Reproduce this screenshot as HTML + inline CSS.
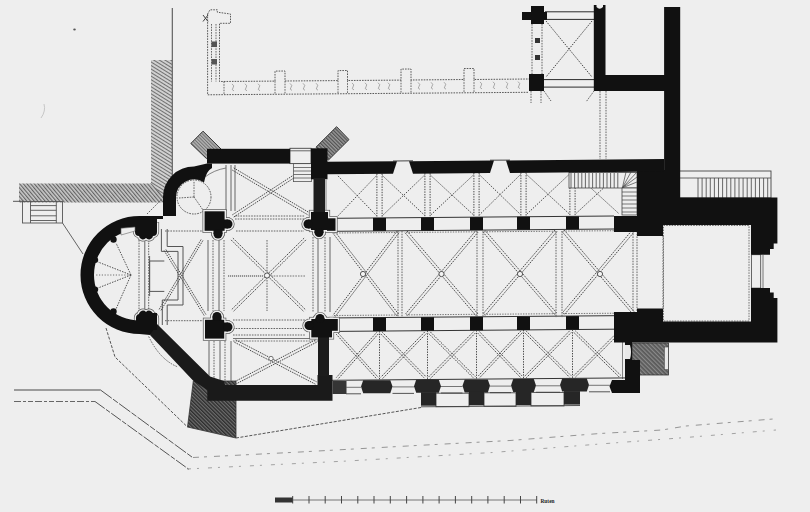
<!DOCTYPE html>
<html><head><meta charset="utf-8"><title>Plan</title>
<style>
html,body{margin:0;padding:0;background:#eeeeee;width:810px;height:512px;overflow:hidden}
svg{display:block}
</style></head><body>
<svg width="810" height="512" viewBox="0 0 810 512">
<defs>
<pattern id="hl" patternUnits="userSpaceOnUse" width="2.8" height="2.8" patternTransform="rotate(-40)">
<rect width="2.8" height="2.8" fill="#c8c8c8"/><rect width="1.1" height="2.8" fill="#626262"/></pattern>
<pattern id="hv" patternUnits="userSpaceOnUse" width="3" height="3" patternTransform="rotate(-58)">
<rect width="3" height="3" fill="#d0d0d0"/><rect width="1" height="3" fill="#707070"/></pattern>
<pattern id="hm" patternUnits="userSpaceOnUse" width="2.4" height="2.4" patternTransform="rotate(-45)">
<rect width="2.4" height="2.4" fill="#b4b4b4"/><rect width="1" height="2.4" fill="#707070"/></pattern>
<pattern id="hd" patternUnits="userSpaceOnUse" width="2.6" height="2.6" patternTransform="rotate(-45)">
<rect width="2.6" height="2.6" fill="#6e6e6e"/><rect width="1.4" height="2.6" fill="#2e2e2e"/></pattern>
<pattern id="hd2" patternUnits="userSpaceOnUse" width="3" height="3" patternTransform="rotate(-45)">
<rect width="3" height="3" fill="#5a5a5a"/><rect width="1.2" height="3" fill="#8a8a8a"/></pattern>
<pattern id="hm2" patternUnits="userSpaceOnUse" width="2.6" height="2.6" patternTransform="rotate(-45)">
<rect width="2.6" height="2.6" fill="#9a9a9a"/><rect width="1.2" height="2.6" fill="#505050"/></pattern>
</defs>
<rect width="810" height="512" fill="#eeeeee"/>
<g id="hatch">
<polygon points="19,183.5 151,183.5 168.6,202.6 19,202.6" fill="url(#hl)"/>
<polygon points="151,60 172,60 172,202.6 168.6,202.6 151,183.5" fill="url(#hv)"/>
<line x1="151" y1="183.5" x2="166" y2="200" stroke="#666" stroke-width="0.8"/>
<polygon points="190.8,143.5 203,131.2 221,149 206.4,158.5" fill="url(#hm)" stroke="#333" stroke-width="1"/>
<polygon points="316,147.2 336.6,126.7 349,139.6 328.4,160.1" fill="url(#hm2)" stroke="#333" stroke-width="1"/>
<polygon points="193.3,381 236,381 236,438 187.5,427" fill="url(#hd)" stroke="#333" stroke-width="0.8"/>
<rect x="332.5" y="381" width="14" height="13" fill="#353535"/>
<rect x="632" y="343" width="36.5" height="32" fill="url(#hd2)" stroke="#333" stroke-width="0.8"/>
<rect x="664.3" y="347" width="4" height="22.7" fill="#e8e8e8" stroke="#444" stroke-width="0.6"/>
</g>
<g id="lines">
<ellipse cx="74.5" cy="29.5" rx="1.3" ry="1" fill="#555"/>
<path d="M44,104 Q46,111 41,118" fill="none" stroke="#bbb" stroke-width="0.8"/>
<line x1="393" y1="161" x2="413" y2="160.8" stroke="#333" stroke-width="0.9"/>
<line x1="490" y1="160.2" x2="510" y2="160.1" stroke="#333" stroke-width="0.9"/>
<line x1="172.3" y1="8" x2="172.3" y2="190" stroke="#555" stroke-width="1.1"/>
<line x1="13" y1="201.3" x2="24" y2="201.3" stroke="#555" stroke-width="1"/>
<rect x="22.5" y="201.5" width="40" height="21.5" fill="none" stroke="#555" stroke-width="0.9"/>
<line x1="30.5" y1="201.5" x2="30.5" y2="223" stroke="#555" stroke-width="0.9"/>
<line x1="56.3" y1="201.5" x2="56.3" y2="223" stroke="#555" stroke-width="0.9"/>
<line x1="30.5" y1="205.6" x2="56.3" y2="205.6" stroke="#555" stroke-width="0.9"/>
<line x1="30.5" y1="210.3" x2="56.3" y2="210.3" stroke="#555" stroke-width="0.9"/>
<line x1="30.5" y1="215.8" x2="56.3" y2="215.8" stroke="#555" stroke-width="0.9"/>
<line x1="30.5" y1="220.5" x2="56.3" y2="220.5" stroke="#555" stroke-width="0.9"/>
<line x1="62.5" y1="223" x2="83" y2="254" stroke="#555" stroke-width="0.9"/>
<line x1="147" y1="214" x2="162" y2="199" stroke="#555" stroke-width="0.9" stroke-dasharray="1.6 1.1"/>
<polyline points="207.6,14 210,9.8 217.3,9.8 217.3,12.2 230.5,14 230.5,23.3 219.5,23.3 219.5,81.5 275,81.1 275,71.1 285,71 285,81 338,80.6 338,70.6 347.5,70.5 347.5,80.5 401,80.1 401,69.1 411,69 411,80 464,79.5 464,68.5 474,68.5 474,79.5 529,79" fill="none" stroke="#585858" stroke-width="1" stroke-dasharray="1.6 1.1"/>
<polyline points="207.6,14 207.6,94.8 529,92.3" fill="none" stroke="#585858" stroke-width="1" stroke-dasharray="1.6 1.1"/>
<line x1="211.5" y1="24" x2="211.5" y2="81.5" stroke="#585858" stroke-width="0.9" stroke-dasharray="1.6 1.1"/>
<line x1="216" y1="24" x2="216" y2="81.5" stroke="#585858" stroke-width="0.9" stroke-dasharray="1.6 1.1"/>
<line x1="224" y1="81.5" x2="224" y2="94.8" stroke="#585858" stroke-width="0.9" stroke-dasharray="1.6 1.1"/>
<line x1="275" y1="81.1" x2="275" y2="94.4" stroke="#585858" stroke-width="0.9" stroke-dasharray="1.6 1.1"/>
<line x1="285" y1="81" x2="285" y2="94.3" stroke="#585858" stroke-width="0.9" stroke-dasharray="1.6 1.1"/>
<line x1="338" y1="80.6" x2="338" y2="93.9" stroke="#585858" stroke-width="0.9" stroke-dasharray="1.6 1.1"/>
<line x1="347.5" y1="80.5" x2="347.5" y2="93.8" stroke="#585858" stroke-width="0.9" stroke-dasharray="1.6 1.1"/>
<line x1="401" y1="80.1" x2="401" y2="93.4" stroke="#585858" stroke-width="0.9" stroke-dasharray="1.6 1.1"/>
<line x1="411" y1="80" x2="411" y2="93.3" stroke="#585858" stroke-width="0.9" stroke-dasharray="1.6 1.1"/>
<line x1="464" y1="79.5" x2="464" y2="92.8" stroke="#585858" stroke-width="0.9" stroke-dasharray="1.6 1.1"/>
<line x1="474" y1="79.5" x2="474" y2="92.8" stroke="#585858" stroke-width="0.9" stroke-dasharray="1.6 1.1"/>
<rect x="211.5" y="41.5" width="5.5" height="5.5" fill="#555"/><rect x="211.5" y="59" width="5.5" height="5.5" fill="#555"/>
<line x1="203" y1="15" x2="208" y2="21.5" stroke="#444" stroke-width="1"/>
<line x1="208" y1="15" x2="203" y2="21.5" stroke="#444" stroke-width="1"/>
<path d="M232,83.9 q3,2 1,4 q-2,2 1,3" fill="none" stroke="#8a8a8a" stroke-width="0.7"/>
<path d="M245,83.8 q3,2 1,4 q-2,2 1,3" fill="none" stroke="#8a8a8a" stroke-width="0.7"/>
<path d="M258,83.7 q3,2 1,4 q-2,2 1,3" fill="none" stroke="#8a8a8a" stroke-width="0.7"/>
<path d="M290,83.4 q3,2 1,4 q-2,2 1,3" fill="none" stroke="#8a8a8a" stroke-width="0.7"/>
<path d="M303,83.3 q3,2 1,4 q-2,2 1,3" fill="none" stroke="#8a8a8a" stroke-width="0.7"/>
<path d="M316,83.2 q3,2 1,4 q-2,2 1,3" fill="none" stroke="#8a8a8a" stroke-width="0.7"/>
<path d="M352,82.9 q3,2 1,4 q-2,2 1,3" fill="none" stroke="#8a8a8a" stroke-width="0.7"/>
<path d="M365,82.8 q3,2 1,4 q-2,2 1,3" fill="none" stroke="#8a8a8a" stroke-width="0.7"/>
<path d="M378,82.7 q3,2 1,4 q-2,2 1,3" fill="none" stroke="#8a8a8a" stroke-width="0.7"/>
<path d="M388,82.7 q3,2 1,4 q-2,2 1,3" fill="none" stroke="#8a8a8a" stroke-width="0.7"/>
<path d="M418,82.4 q3,2 1,4 q-2,2 1,3" fill="none" stroke="#8a8a8a" stroke-width="0.7"/>
<path d="M431,82.3 q3,2 1,4 q-2,2 1,3" fill="none" stroke="#8a8a8a" stroke-width="0.7"/>
<path d="M444,82.2 q3,2 1,4 q-2,2 1,3" fill="none" stroke="#8a8a8a" stroke-width="0.7"/>
<path d="M480,81.9 q3,2 1,4 q-2,2 1,3" fill="none" stroke="#8a8a8a" stroke-width="0.7"/>
<path d="M493,81.8 q3,2 1,4 q-2,2 1,3" fill="none" stroke="#8a8a8a" stroke-width="0.7"/>
<path d="M506,81.7 q3,2 1,4 q-2,2 1,3" fill="none" stroke="#8a8a8a" stroke-width="0.7"/>
<path d="M518,81.6 q3,2 1,4 q-2,2 1,3" fill="none" stroke="#8a8a8a" stroke-width="0.7"/>
<line x1="545" y1="11.8" x2="594" y2="11.8" stroke="#2a2a2a" stroke-width="1"/>
<line x1="545" y1="19.4" x2="594" y2="19.4" stroke="#2a2a2a" stroke-width="1"/>
<line x1="544" y1="79.6" x2="594" y2="79.6" stroke="#2a2a2a" stroke-width="1"/>
<line x1="544" y1="87.1" x2="594" y2="87.1" stroke="#2a2a2a" stroke-width="1"/>
<line x1="546" y1="21" x2="592" y2="77" stroke="#444" stroke-width="1" stroke-dasharray="1.5 1.2"/>
<line x1="592" y1="21" x2="546" y2="77" stroke="#444" stroke-width="1" stroke-dasharray="1.5 1.2"/>
<line x1="532" y1="24" x2="532" y2="74" stroke="#555" stroke-width="0.9" stroke-dasharray="1.6 1.1"/>
<line x1="542" y1="24" x2="542" y2="74" stroke="#555" stroke-width="0.9" stroke-dasharray="1.6 1.1"/>
<rect x="535" y="38" width="5" height="5" fill="#333"/><rect x="535" y="55" width="5" height="5" fill="#333"/>
<line x1="531" y1="91" x2="531" y2="103" stroke="#555" stroke-width="0.9" stroke-dasharray="1.6 1.1"/>
<line x1="541" y1="91" x2="541" y2="103" stroke="#555" stroke-width="0.9" stroke-dasharray="1.6 1.1"/>
<line x1="544" y1="91" x2="551" y2="101" stroke="#555" stroke-width="0.9" stroke-dasharray="1.6 1.1"/>
<line x1="594" y1="91" x2="586" y2="102" stroke="#555" stroke-width="0.9" stroke-dasharray="1.6 1.1"/>
<line x1="600" y1="91" x2="600" y2="159" stroke="#555" stroke-width="0.9" stroke-dasharray="1.6 1.1"/>
<line x1="606" y1="91" x2="606" y2="159" stroke="#555" stroke-width="0.9" stroke-dasharray="1.6 1.1"/>
<rect x="290" y="148.3" width="21" height="15.3" fill="none" stroke="#444" stroke-width="0.9"/>
<line x1="290" y1="150.8" x2="311" y2="150.8" stroke="#444" stroke-width="0.8"/>
<rect x="293.4" y="163.6" width="18" height="18" fill="none" stroke="#555" stroke-width="0.8"/>
<line x1="293.4" y1="167.5" x2="311" y2="167.5" stroke="#555" stroke-width="0.8"/>
<line x1="293.4" y1="171" x2="311" y2="171" stroke="#555" stroke-width="0.8"/>
<line x1="293.4" y1="174.5" x2="311" y2="174.5" stroke="#555" stroke-width="0.8"/>
<line x1="293.4" y1="178" x2="311" y2="178" stroke="#555" stroke-width="0.8"/>
<line x1="226" y1="165" x2="226" y2="211" stroke="#555" stroke-width="0.9"/>
<line x1="231" y1="165" x2="231" y2="211" stroke="#555" stroke-width="0.9"/>
<line x1="235" y1="165" x2="235" y2="211" stroke="#555" stroke-width="0.9"/>
<line x1="232.3" y1="170.1" x2="308.3" y2="215.1" stroke="#484848" stroke-width="1" stroke-dasharray="1.5 1"/>
<line x1="233.7" y1="167.9" x2="309.7" y2="212.9" stroke="#484848" stroke-width="1" stroke-dasharray="1.5 1"/>
<line x1="292.3" y1="175.9" x2="232.3" y2="214.9" stroke="#484848" stroke-width="1" stroke-dasharray="1.5 1"/>
<line x1="293.7" y1="178.1" x2="233.7" y2="217.1" stroke="#484848" stroke-width="1" stroke-dasharray="1.5 1"/>
<line x1="235" y1="216" x2="305" y2="216" stroke="#555" stroke-width="0.9" stroke-dasharray="1.6 1.1"/>
<line x1="235" y1="219" x2="305" y2="219" stroke="#555" stroke-width="0.9" stroke-dasharray="1.6 1.1"/>
<line x1="236" y1="231" x2="304" y2="231" stroke="#555" stroke-width="0.9" stroke-dasharray="1.6 1.1"/>
<path d="M205,177 Q214,170 226,168" fill="none" stroke="#666" stroke-width="0.8"/>
<line x1="326" y1="180" x2="326" y2="213" stroke="#555" stroke-width="0.7"/>
<circle cx="194" cy="197" r="17" fill="none" stroke="#555" stroke-width="1" stroke-dasharray="1.6 1.1"/>
<line x1="194" y1="197" x2="194" y2="181" stroke="#555" stroke-width="0.9" stroke-dasharray="1.6 1.1"/>
<line x1="194" y1="197" x2="179" y2="198" stroke="#555" stroke-width="0.9" stroke-dasharray="1.6 1.1"/>
<line x1="194" y1="197" x2="203" y2="210" stroke="#555" stroke-width="0.9" stroke-dasharray="1.6 1.1"/>
<line x1="131" y1="275" x2="116" y2="243" stroke="#505050" stroke-width="1" stroke-dasharray="1.5 1.2"/>
<line x1="131" y1="275" x2="98" y2="262" stroke="#505050" stroke-width="1" stroke-dasharray="1.5 1.2"/>
<line x1="131" y1="275" x2="98" y2="288" stroke="#505050" stroke-width="1" stroke-dasharray="1.5 1.2"/>
<line x1="131" y1="275" x2="116" y2="309" stroke="#505050" stroke-width="1" stroke-dasharray="1.5 1.2"/>
<line x1="131" y1="275" x2="96" y2="275" stroke="#505050" stroke-width="0.8" stroke-dasharray="1.2 1.6"/>
<line x1="139" y1="240" x2="139" y2="312" stroke="#555" stroke-width="0.9" stroke-dasharray="1.6 1.1"/>
<line x1="144.8" y1="240" x2="144.8" y2="312" stroke="#555" stroke-width="0.9"/>
<line x1="148.7" y1="240" x2="148.7" y2="312" stroke="#555" stroke-width="0.9" stroke-dasharray="1.6 1.1"/>
<polyline points="161.4,229 161.4,251.4 178,251.4 178,300 162.3,300 162.3,325" fill="none" stroke="#555" stroke-width="1"/>
<polyline points="167.2,229 167.2,246.5 183,246.5 183,305 167.2,305 167.2,325" fill="none" stroke="#555" stroke-width="1"/>
<polyline points="164.3,261 149.6,261 149.6,291.4 164.3,291.4" fill="none" stroke="#555" stroke-width="1"/>
<line x1="149.6" y1="256" x2="149.6" y2="296" stroke="#555" stroke-width="0.9"/>
<line x1="164.1" y1="250.5" x2="204.1" y2="315.5" stroke="#484848" stroke-width="1" stroke-dasharray="1.5 1"/>
<line x1="165.9" y1="249.5" x2="205.9" y2="314.5" stroke="#484848" stroke-width="1" stroke-dasharray="1.5 1"/>
<line x1="201.1" y1="239.5" x2="159.1" y2="309.5" stroke="#484848" stroke-width="1" stroke-dasharray="1.5 1"/>
<line x1="202.9" y1="240.5" x2="160.9" y2="310.5" stroke="#484848" stroke-width="1" stroke-dasharray="1.5 1"/>
<line x1="165" y1="231" x2="205" y2="231" stroke="#555" stroke-width="0.9" stroke-dasharray="1.6 1.1"/>
<line x1="165" y1="320.7" x2="205" y2="320.7" stroke="#555" stroke-width="0.9" stroke-dasharray="1.6 1.1"/>
<line x1="208" y1="240" x2="208" y2="311" stroke="#555" stroke-width="0.9"/>
<line x1="213" y1="240" x2="213" y2="311" stroke="#555" stroke-width="0.9" stroke-dasharray="1.6 1.1"/>
<line x1="219" y1="240" x2="219" y2="311" stroke="#555" stroke-width="0.9"/>
<line x1="224" y1="240" x2="224" y2="311" stroke="#555" stroke-width="0.9" stroke-dasharray="1.6 1.1"/>
<line x1="231.1" y1="239.9" x2="304.1" y2="311.9" stroke="#484848" stroke-width="1" stroke-dasharray="1.5 1"/>
<line x1="232.9" y1="238.1" x2="305.9" y2="310.1" stroke="#484848" stroke-width="1" stroke-dasharray="1.5 1"/>
<line x1="304.1" y1="238.1" x2="231.1" y2="310.1" stroke="#484848" stroke-width="1" stroke-dasharray="1.5 1"/>
<line x1="305.9" y1="239.9" x2="232.9" y2="311.9" stroke="#484848" stroke-width="1" stroke-dasharray="1.5 1"/>
<line x1="228" y1="276" x2="263" y2="276" stroke="#777" stroke-width="1.6" stroke-dasharray="1.2 0.8"/>
<line x1="271" y1="276" x2="305" y2="276" stroke="#555" stroke-width="0.8" stroke-dasharray="1.6 1.1"/>
<line x1="267" y1="240" x2="267" y2="272" stroke="#555" stroke-width="0.9" stroke-dasharray="1.6 1.1"/>
<line x1="267" y1="280" x2="267" y2="311" stroke="#555" stroke-width="0.9" stroke-dasharray="1.6 1.1"/>
<line x1="313" y1="237" x2="313" y2="312" stroke="#555" stroke-width="0.9" stroke-dasharray="1.6 1.1"/>
<line x1="318" y1="237" x2="318" y2="312" stroke="#555" stroke-width="0.9"/>
<line x1="325" y1="237" x2="325" y2="312" stroke="#555" stroke-width="0.9" stroke-dasharray="1.6 1.1"/>
<line x1="330" y1="237" x2="330" y2="312" stroke="#555" stroke-width="0.9"/>
<circle cx="267" cy="275.5" r="2.6" fill="#f4f4f4" stroke="#555" stroke-width="1"/>
<line x1="234.4" y1="342.2" x2="315.4" y2="384.2" stroke="#484848" stroke-width="1" stroke-dasharray="1.5 1"/>
<line x1="235.6" y1="339.8" x2="316.6" y2="381.8" stroke="#484848" stroke-width="1" stroke-dasharray="1.5 1"/>
<line x1="315.4" y1="339.8" x2="234.4" y2="381.8" stroke="#484848" stroke-width="1" stroke-dasharray="1.5 1"/>
<line x1="316.6" y1="342.2" x2="235.6" y2="384.2" stroke="#484848" stroke-width="1" stroke-dasharray="1.5 1"/>
<circle cx="271" cy="358.5" r="2.2" fill="#f4f4f4" stroke="#666" stroke-width="0.9"/>
<line x1="233" y1="320" x2="305" y2="320" stroke="#555" stroke-width="0.9" stroke-dasharray="1.6 1.1"/>
<line x1="233" y1="328.5" x2="305" y2="328.5" stroke="#555" stroke-width="0.9" stroke-dasharray="1.6 1.1"/>
<line x1="233" y1="335" x2="305" y2="335" stroke="#555" stroke-width="0.9" stroke-dasharray="1.6 1.1"/>
<line x1="233" y1="338.5" x2="318" y2="338.5" stroke="#555" stroke-width="0.8"/>
<line x1="233" y1="341" x2="318" y2="341" stroke="#555" stroke-width="0.8" stroke-dasharray="1.6 1.1"/>
<line x1="209" y1="341" x2="209" y2="381" stroke="#555" stroke-width="0.9"/>
<line x1="214" y1="341" x2="214" y2="381" stroke="#555" stroke-width="0.9" stroke-dasharray="1.6 1.1"/>
<line x1="220" y1="341" x2="220" y2="381" stroke="#555" stroke-width="0.9"/>
<line x1="225" y1="341" x2="225" y2="381" stroke="#555" stroke-width="0.9" stroke-dasharray="1.6 1.1"/>
<line x1="231" y1="341" x2="231" y2="381" stroke="#555" stroke-width="0.9"/>
<polyline points="106,328 115,357 187.5,427" fill="none" stroke="#555" stroke-width="1" stroke-dasharray="3 1.5"/>
<path d="M148.7,336.5 Q160,360 178,367" fill="none" stroke="#555" stroke-width="0.9" stroke-dasharray="1.6 1.1"/>
<line x1="335" y1="218.3" x2="614" y2="216" stroke="#333" stroke-width="1"/>
<line x1="335" y1="231.3" x2="614" y2="229" stroke="#333" stroke-width="1"/>
<line x1="337" y1="317.9" x2="614" y2="315.7" stroke="#333" stroke-width="1"/>
<line x1="337" y1="331.4" x2="614" y2="329.2" stroke="#333" stroke-width="1"/>
<line x1="376.9" y1="173.6" x2="376.9" y2="217.6" stroke="#4a4a4a" stroke-width="1" stroke-dasharray="1.4 1.2"/>
<line x1="382.1" y1="173.6" x2="382.1" y2="217.6" stroke="#4a4a4a" stroke-width="1" stroke-dasharray="1.4 1.2"/>
<line x1="424.9" y1="173.2" x2="424.9" y2="217.2" stroke="#4a4a4a" stroke-width="1" stroke-dasharray="1.4 1.2"/>
<line x1="430.1" y1="173.2" x2="430.1" y2="217.2" stroke="#4a4a4a" stroke-width="1" stroke-dasharray="1.4 1.2"/>
<line x1="473.9" y1="172.8" x2="473.9" y2="216.8" stroke="#4a4a4a" stroke-width="1" stroke-dasharray="1.4 1.2"/>
<line x1="479.1" y1="172.8" x2="479.1" y2="216.8" stroke="#4a4a4a" stroke-width="1" stroke-dasharray="1.4 1.2"/>
<line x1="520.9" y1="172.5" x2="520.9" y2="216.5" stroke="#4a4a4a" stroke-width="1" stroke-dasharray="1.4 1.2"/>
<line x1="526.1" y1="172.5" x2="526.1" y2="216.5" stroke="#4a4a4a" stroke-width="1" stroke-dasharray="1.4 1.2"/>
<line x1="569.9" y1="172.1" x2="569.9" y2="216.1" stroke="#4a4a4a" stroke-width="1" stroke-dasharray="1.4 1.2"/>
<line x1="575.1" y1="172.1" x2="575.1" y2="216.1" stroke="#4a4a4a" stroke-width="1" stroke-dasharray="1.4 1.2"/>
<line x1="338" y1="175.9" x2="376.5" y2="215.6" stroke="#4a4a4a" stroke-width="1" stroke-dasharray="1.4 1.3"/>
<line x1="376.5" y1="175.6" x2="338" y2="215.9" stroke="#4a4a4a" stroke-width="1" stroke-dasharray="1.4 1.3"/>
<line x1="382.5" y1="175.6" x2="424.5" y2="215.2" stroke="#4a4a4a" stroke-width="1" stroke-dasharray="1.4 1.3"/>
<line x1="424.5" y1="175.2" x2="382.5" y2="215.6" stroke="#4a4a4a" stroke-width="1" stroke-dasharray="1.4 1.3"/>
<line x1="430.5" y1="175.2" x2="473.5" y2="214.9" stroke="#4a4a4a" stroke-width="1" stroke-dasharray="1.4 1.3"/>
<line x1="473.5" y1="174.9" x2="430.5" y2="215.2" stroke="#4a4a4a" stroke-width="1" stroke-dasharray="1.4 1.3"/>
<line x1="479.5" y1="174.8" x2="520.5" y2="214.5" stroke="#4a4a4a" stroke-width="1" stroke-dasharray="1.4 1.3"/>
<line x1="520.5" y1="174.5" x2="479.5" y2="214.8" stroke="#4a4a4a" stroke-width="1" stroke-dasharray="1.4 1.3"/>
<line x1="526.5" y1="174.4" x2="569.5" y2="214.1" stroke="#4a4a4a" stroke-width="1" stroke-dasharray="1.4 1.3"/>
<line x1="569.5" y1="174.1" x2="526.5" y2="214.4" stroke="#4a4a4a" stroke-width="1" stroke-dasharray="1.4 1.3"/>
<line x1="575.5" y1="174" x2="619" y2="213.7" stroke="#4a4a4a" stroke-width="1" stroke-dasharray="1.4 1.3"/>
<line x1="619" y1="173.7" x2="575.5" y2="214" stroke="#4a4a4a" stroke-width="1" stroke-dasharray="1.4 1.3"/>
<line x1="379.5" y1="331.1" x2="379.5" y2="379.6" stroke="#4a4a4a" stroke-width="1" stroke-dasharray="1.4 1.2"/>
<line x1="427.5" y1="330.7" x2="427.5" y2="379.2" stroke="#4a4a4a" stroke-width="1" stroke-dasharray="1.4 1.2"/>
<line x1="476.5" y1="330.3" x2="476.5" y2="378.8" stroke="#4a4a4a" stroke-width="1" stroke-dasharray="1.4 1.2"/>
<line x1="523.5" y1="330" x2="523.5" y2="378.5" stroke="#4a4a4a" stroke-width="1" stroke-dasharray="1.4 1.2"/>
<line x1="572.5" y1="329.6" x2="572.5" y2="378.1" stroke="#4a4a4a" stroke-width="1" stroke-dasharray="1.4 1.2"/>
<line x1="336.2" y1="334.2" x2="376.7" y2="378.9" stroke="#484848" stroke-width="1" stroke-dasharray="1.5 1"/>
<line x1="337.8" y1="332.7" x2="378.3" y2="377.4" stroke="#484848" stroke-width="1" stroke-dasharray="1.5 1"/>
<line x1="376.7" y1="332.4" x2="336.2" y2="377.7" stroke="#484848" stroke-width="1" stroke-dasharray="1.5 1"/>
<line x1="378.3" y1="333.9" x2="337.8" y2="379.2" stroke="#484848" stroke-width="1" stroke-dasharray="1.5 1"/>
<line x1="380.7" y1="333.9" x2="424.7" y2="378.5" stroke="#484848" stroke-width="1" stroke-dasharray="1.5 1"/>
<line x1="382.3" y1="332.3" x2="426.3" y2="377" stroke="#484848" stroke-width="1" stroke-dasharray="1.5 1"/>
<line x1="424.7" y1="332" x2="380.7" y2="377.3" stroke="#484848" stroke-width="1" stroke-dasharray="1.5 1"/>
<line x1="426.3" y1="333.5" x2="382.3" y2="378.9" stroke="#484848" stroke-width="1" stroke-dasharray="1.5 1"/>
<line x1="428.7" y1="333.5" x2="473.7" y2="378.1" stroke="#484848" stroke-width="1" stroke-dasharray="1.5 1"/>
<line x1="430.3" y1="331.9" x2="475.3" y2="376.6" stroke="#484848" stroke-width="1" stroke-dasharray="1.5 1"/>
<line x1="473.7" y1="331.6" x2="428.7" y2="376.9" stroke="#484848" stroke-width="1" stroke-dasharray="1.5 1"/>
<line x1="475.3" y1="333.1" x2="430.3" y2="378.5" stroke="#484848" stroke-width="1" stroke-dasharray="1.5 1"/>
<line x1="477.7" y1="333.1" x2="520.7" y2="377.7" stroke="#484848" stroke-width="1" stroke-dasharray="1.5 1"/>
<line x1="479.3" y1="331.5" x2="522.3" y2="376.2" stroke="#484848" stroke-width="1" stroke-dasharray="1.5 1"/>
<line x1="520.7" y1="331.2" x2="477.7" y2="376.6" stroke="#484848" stroke-width="1" stroke-dasharray="1.5 1"/>
<line x1="522.3" y1="332.7" x2="479.3" y2="378.1" stroke="#484848" stroke-width="1" stroke-dasharray="1.5 1"/>
<line x1="524.7" y1="332.7" x2="569.7" y2="377.4" stroke="#484848" stroke-width="1" stroke-dasharray="1.5 1"/>
<line x1="526.3" y1="331.2" x2="571.3" y2="375.8" stroke="#484848" stroke-width="1" stroke-dasharray="1.5 1"/>
<line x1="569.7" y1="330.8" x2="524.7" y2="376.2" stroke="#484848" stroke-width="1" stroke-dasharray="1.5 1"/>
<line x1="571.3" y1="332.4" x2="526.3" y2="377.7" stroke="#484848" stroke-width="1" stroke-dasharray="1.5 1"/>
<line x1="573.7" y1="332.3" x2="619.2" y2="377" stroke="#484848" stroke-width="1" stroke-dasharray="1.5 1"/>
<line x1="575.3" y1="330.8" x2="620.8" y2="375.4" stroke="#484848" stroke-width="1" stroke-dasharray="1.5 1"/>
<line x1="619.2" y1="330.4" x2="573.7" y2="375.8" stroke="#484848" stroke-width="1" stroke-dasharray="1.5 1"/>
<line x1="620.8" y1="332" x2="575.3" y2="377.3" stroke="#484848" stroke-width="1" stroke-dasharray="1.5 1"/>
<line x1="622.5" y1="331" x2="622.5" y2="379" stroke="#666" stroke-width="0.8"/>
<line x1="333" y1="233.3" x2="397" y2="316.2" stroke="#484848" stroke-width="1" stroke-dasharray="1.5 1"/>
<line x1="335" y1="231.7" x2="399" y2="314.7" stroke="#484848" stroke-width="1" stroke-dasharray="1.5 1"/>
<line x1="397" y1="231.2" x2="333" y2="315.2" stroke="#484848" stroke-width="1" stroke-dasharray="1.5 1"/>
<line x1="399" y1="232.7" x2="335" y2="316.8" stroke="#484848" stroke-width="1" stroke-dasharray="1.5 1"/>
<line x1="334" y1="233" x2="398" y2="232.5" stroke="#555" stroke-width="0.8" stroke-dasharray="1.4 1.2"/>
<line x1="334" y1="315.5" x2="398" y2="315" stroke="#555" stroke-width="0.8" stroke-dasharray="1.4 1.2"/>
<line x1="405" y1="232.7" x2="476" y2="315.7" stroke="#484848" stroke-width="1" stroke-dasharray="1.5 1"/>
<line x1="407" y1="231" x2="478" y2="314" stroke="#484848" stroke-width="1" stroke-dasharray="1.5 1"/>
<line x1="476" y1="230.5" x2="405" y2="314.6" stroke="#484848" stroke-width="1" stroke-dasharray="1.5 1"/>
<line x1="478" y1="232.2" x2="407" y2="316.2" stroke="#484848" stroke-width="1" stroke-dasharray="1.5 1"/>
<line x1="406" y1="232.4" x2="477" y2="231.8" stroke="#555" stroke-width="0.8" stroke-dasharray="1.4 1.2"/>
<line x1="406" y1="314.9" x2="477" y2="314.3" stroke="#555" stroke-width="0.8" stroke-dasharray="1.4 1.2"/>
<line x1="483" y1="232.1" x2="555" y2="315" stroke="#484848" stroke-width="1" stroke-dasharray="1.5 1"/>
<line x1="485" y1="230.4" x2="557" y2="313.3" stroke="#484848" stroke-width="1" stroke-dasharray="1.5 1"/>
<line x1="555" y1="229.8" x2="483" y2="313.9" stroke="#484848" stroke-width="1" stroke-dasharray="1.5 1"/>
<line x1="557" y1="231.5" x2="485" y2="315.6" stroke="#484848" stroke-width="1" stroke-dasharray="1.5 1"/>
<line x1="484" y1="231.8" x2="556" y2="231.2" stroke="#555" stroke-width="0.8" stroke-dasharray="1.4 1.2"/>
<line x1="484" y1="314.3" x2="556" y2="313.7" stroke="#555" stroke-width="0.8" stroke-dasharray="1.4 1.2"/>
<line x1="562" y1="231.5" x2="633" y2="314.4" stroke="#484848" stroke-width="1" stroke-dasharray="1.5 1"/>
<line x1="564" y1="229.8" x2="635" y2="312.7" stroke="#484848" stroke-width="1" stroke-dasharray="1.5 1"/>
<line x1="633" y1="229.2" x2="562" y2="313.3" stroke="#484848" stroke-width="1" stroke-dasharray="1.5 1"/>
<line x1="635" y1="230.9" x2="564" y2="315" stroke="#484848" stroke-width="1" stroke-dasharray="1.5 1"/>
<line x1="563" y1="231.1" x2="634" y2="230.6" stroke="#555" stroke-width="0.8" stroke-dasharray="1.4 1.2"/>
<line x1="563" y1="313.6" x2="634" y2="313.1" stroke="#555" stroke-width="0.8" stroke-dasharray="1.4 1.2"/>
<line x1="398" y1="231" x2="398" y2="317.5" stroke="#555" stroke-width="0.9" stroke-dasharray="1.6 1.1"/>
<line x1="402" y1="231" x2="402" y2="317.5" stroke="#555" stroke-width="0.9" stroke-dasharray="1.6 1.1"/>
<line x1="477" y1="231" x2="477" y2="317.5" stroke="#555" stroke-width="0.9" stroke-dasharray="1.6 1.1"/>
<line x1="483" y1="231" x2="483" y2="317.5" stroke="#555" stroke-width="0.9" stroke-dasharray="1.6 1.1"/>
<line x1="556" y1="231" x2="556" y2="317.5" stroke="#555" stroke-width="0.9" stroke-dasharray="1.6 1.1"/>
<line x1="562" y1="231" x2="562" y2="317.5" stroke="#555" stroke-width="0.9" stroke-dasharray="1.6 1.1"/>
<line x1="633" y1="231" x2="633" y2="317.5" stroke="#555" stroke-width="0.9" stroke-dasharray="1.6 1.1"/>
<line x1="637" y1="231" x2="637" y2="317.5" stroke="#555" stroke-width="0.9" stroke-dasharray="1.6 1.1"/>
<circle cx="363" cy="274" r="2.6" fill="#f4f4f4" stroke="#555" stroke-width="1"/>
<circle cx="441.5" cy="274" r="2.6" fill="#f4f4f4" stroke="#555" stroke-width="1"/>
<circle cx="520" cy="274" r="2.6" fill="#f4f4f4" stroke="#555" stroke-width="1"/>
<circle cx="600" cy="274" r="2.6" fill="#f4f4f4" stroke="#555" stroke-width="1"/>
<line x1="663" y1="236" x2="663" y2="308" stroke="#555" stroke-width="0.9" stroke-dasharray="1.6 1.1"/>
<rect x="569" y="172.5" width="68" height="15.5" fill="#eeeeee" stroke="#444" stroke-width="0.8"/>
<line x1="571" y1="173" x2="571" y2="188" stroke="#444" stroke-width="0.8"/>
<line x1="574.6" y1="173" x2="574.6" y2="188" stroke="#444" stroke-width="0.8"/>
<line x1="578.2" y1="173" x2="578.2" y2="188" stroke="#444" stroke-width="0.8"/>
<line x1="581.8" y1="173" x2="581.8" y2="188" stroke="#444" stroke-width="0.8"/>
<line x1="585.4" y1="173" x2="585.4" y2="188" stroke="#444" stroke-width="0.8"/>
<line x1="589" y1="173" x2="589" y2="188" stroke="#444" stroke-width="0.8"/>
<line x1="592.6" y1="173" x2="592.6" y2="188" stroke="#444" stroke-width="0.8"/>
<line x1="596.2" y1="173" x2="596.2" y2="188" stroke="#444" stroke-width="0.8"/>
<line x1="599.8" y1="173" x2="599.8" y2="188" stroke="#444" stroke-width="0.8"/>
<line x1="603.4" y1="173" x2="603.4" y2="188" stroke="#444" stroke-width="0.8"/>
<line x1="607" y1="173" x2="607" y2="188" stroke="#444" stroke-width="0.8"/>
<line x1="610.6" y1="173" x2="610.6" y2="188" stroke="#444" stroke-width="0.8"/>
<line x1="614.2" y1="173" x2="614.2" y2="188" stroke="#444" stroke-width="0.8"/>
<line x1="617.8" y1="173" x2="617.8" y2="188" stroke="#444" stroke-width="0.8"/>
<line x1="622.4" y1="187.8" x2="626" y2="172" stroke="#444" stroke-width="0.7"/>
<line x1="622.4" y1="187.8" x2="631" y2="172" stroke="#444" stroke-width="0.7"/>
<line x1="622.4" y1="187.8" x2="637" y2="172" stroke="#444" stroke-width="0.7"/>
<line x1="622.4" y1="187.8" x2="637" y2="177" stroke="#444" stroke-width="0.7"/>
<line x1="622.4" y1="187.8" x2="637" y2="182" stroke="#444" stroke-width="0.7"/>
<rect x="622" y="188" width="15" height="27" fill="#eeeeee" stroke="#444" stroke-width="0.8"/>
<line x1="622" y1="192" x2="637" y2="192" stroke="#444" stroke-width="0.7"/>
<line x1="622" y1="196" x2="637" y2="196" stroke="#444" stroke-width="0.7"/>
<line x1="622" y1="200" x2="637" y2="200" stroke="#444" stroke-width="0.7"/>
<line x1="622" y1="204" x2="637" y2="204" stroke="#444" stroke-width="0.7"/>
<line x1="622" y1="208" x2="637" y2="208" stroke="#444" stroke-width="0.7"/>
<line x1="622" y1="212" x2="637" y2="212" stroke="#444" stroke-width="0.7"/>
<rect x="679" y="171" width="92" height="27" fill="none" stroke="#444" stroke-width="0.9"/>
<line x1="679" y1="178" x2="771" y2="178" stroke="#444" stroke-width="0.8"/>
<line x1="698" y1="178" x2="698" y2="198" stroke="#444" stroke-width="0.8"/>
<line x1="702.1" y1="178" x2="702.1" y2="198" stroke="#444" stroke-width="0.8"/>
<line x1="706.2" y1="178" x2="706.2" y2="198" stroke="#444" stroke-width="0.8"/>
<line x1="710.3" y1="178" x2="710.3" y2="198" stroke="#444" stroke-width="0.8"/>
<line x1="714.4" y1="178" x2="714.4" y2="198" stroke="#444" stroke-width="0.8"/>
<line x1="718.5" y1="178" x2="718.5" y2="198" stroke="#444" stroke-width="0.8"/>
<line x1="722.6" y1="178" x2="722.6" y2="198" stroke="#444" stroke-width="0.8"/>
<line x1="726.7" y1="178" x2="726.7" y2="198" stroke="#444" stroke-width="0.8"/>
<line x1="730.8" y1="178" x2="730.8" y2="198" stroke="#444" stroke-width="0.8"/>
<line x1="734.9" y1="178" x2="734.9" y2="198" stroke="#444" stroke-width="0.8"/>
<line x1="739" y1="178" x2="739" y2="198" stroke="#444" stroke-width="0.8"/>
<line x1="743.1" y1="178" x2="743.1" y2="198" stroke="#444" stroke-width="0.8"/>
<line x1="747.2" y1="178" x2="747.2" y2="198" stroke="#444" stroke-width="0.8"/>
<line x1="751.3" y1="178" x2="751.3" y2="198" stroke="#444" stroke-width="0.8"/>
<line x1="755.4" y1="178" x2="755.4" y2="198" stroke="#444" stroke-width="0.8"/>
<line x1="759.5" y1="178" x2="759.5" y2="198" stroke="#444" stroke-width="0.8"/>
<line x1="763.6" y1="178" x2="763.6" y2="198" stroke="#444" stroke-width="0.8"/>
<line x1="767.7" y1="178" x2="767.7" y2="198" stroke="#444" stroke-width="0.8"/>
<rect x="663.5" y="225.5" width="85.5" height="95.5" fill="none" stroke="#555" stroke-width="0.8" stroke-dasharray="1.6 1.1"/>
<rect x="751.4" y="254.7" width="9.3" height="33.4" fill="none" stroke="#444" stroke-width="0.8"/>
<line x1="763" y1="255" x2="763" y2="288" stroke="#555" stroke-width="0.8"/>
<line x1="332" y1="380.3" x2="640" y2="377.8" stroke="#333" stroke-width="1"/>
<line x1="346" y1="387.3" x2="361" y2="387.3" stroke="#555" stroke-width="0.8"/>
<line x1="346" y1="393.8" x2="361" y2="393.8" stroke="#444" stroke-width="0.9"/>
<line x1="392.5" y1="386.9" x2="414" y2="386.9" stroke="#555" stroke-width="0.8"/>
<line x1="392.5" y1="393.4" x2="414" y2="393.4" stroke="#444" stroke-width="0.9"/>
<line x1="441" y1="386.5" x2="462.5" y2="386.5" stroke="#555" stroke-width="0.8"/>
<line x1="441" y1="393" x2="462.5" y2="393" stroke="#444" stroke-width="0.9"/>
<line x1="490" y1="386.1" x2="511" y2="386.1" stroke="#555" stroke-width="0.8"/>
<line x1="490" y1="392.6" x2="511" y2="392.6" stroke="#444" stroke-width="0.9"/>
<line x1="536" y1="385.8" x2="560" y2="385.8" stroke="#555" stroke-width="0.8"/>
<line x1="536" y1="392.3" x2="560" y2="392.3" stroke="#444" stroke-width="0.9"/>
<line x1="589" y1="385.3" x2="610" y2="385.3" stroke="#555" stroke-width="0.8"/>
<line x1="589" y1="391.8" x2="610" y2="391.8" stroke="#444" stroke-width="0.9"/>
<rect x="436" y="393.2" width="33" height="13.5" fill="none" stroke="#444" stroke-width="0.9"/>
<rect x="484" y="392.8" width="32" height="13.5" fill="none" stroke="#444" stroke-width="0.9"/>
<rect x="531" y="392.4" width="33" height="13.5" fill="none" stroke="#444" stroke-width="0.9"/>
<line x1="421" y1="406.8" x2="580" y2="405.5" stroke="#444" stroke-width="0.9"/>
<polyline points="236,438 421,407.5" fill="none" stroke="#555" stroke-width="1" stroke-dasharray="3 1.5"/>
<polyline points="14,390 100.5,390" fill="none" stroke="#484848" stroke-width="1.2"/>
<polyline points="100.5,390 193,457.8" fill="none" stroke="#555" stroke-width="1" stroke-dasharray="14 1.5 6 1.5"/>
<polyline points="14,401.5 95,401.5" fill="none" stroke="#666" stroke-width="1" stroke-dasharray="7 2 3 2 5 2"/>
<polyline points="95,401.5 188.8,469.3" fill="none" stroke="#555" stroke-width="1" stroke-dasharray="12 1.5 5 1.5"/>
<polyline points="193,457.5 300,452 407.5,446 510,440.5 600,433.5 662,430 686,426 773,419" fill="none" stroke="#8a8a8a" stroke-width="0.9" stroke-dasharray="6 5 3 7"/>
<polyline points="187,469 347.5,461 492.5,452.5 600,444 686,437.5 776,430" fill="none" stroke="#999" stroke-width="0.9" stroke-dasharray="4 6 2 9"/>
<rect x="275" y="497.5" width="18" height="5" fill="#333"/>
<line x1="293" y1="500" x2="537" y2="500" stroke="#666" stroke-width="0.9"/>
<line x1="292.7" y1="496" x2="292.7" y2="503.5" stroke="#444" stroke-width="1"/>
<line x1="309" y1="496" x2="309" y2="503.5" stroke="#444" stroke-width="1"/>
<line x1="325.2" y1="496" x2="325.2" y2="503.5" stroke="#444" stroke-width="1"/>
<line x1="341.5" y1="496" x2="341.5" y2="503.5" stroke="#444" stroke-width="1"/>
<line x1="357.8" y1="496" x2="357.8" y2="503.5" stroke="#444" stroke-width="1"/>
<line x1="374" y1="496" x2="374" y2="503.5" stroke="#444" stroke-width="1"/>
<line x1="390.3" y1="496" x2="390.3" y2="503.5" stroke="#444" stroke-width="1"/>
<line x1="406.6" y1="496" x2="406.6" y2="503.5" stroke="#444" stroke-width="1"/>
<line x1="422.9" y1="496" x2="422.9" y2="503.5" stroke="#444" stroke-width="1"/>
<line x1="439.1" y1="496" x2="439.1" y2="503.5" stroke="#444" stroke-width="1"/>
<line x1="455.4" y1="496" x2="455.4" y2="503.5" stroke="#444" stroke-width="1"/>
<line x1="471.7" y1="496" x2="471.7" y2="503.5" stroke="#444" stroke-width="1"/>
<line x1="487.9" y1="496" x2="487.9" y2="503.5" stroke="#444" stroke-width="1"/>
<line x1="504.2" y1="496" x2="504.2" y2="503.5" stroke="#444" stroke-width="1"/>
<line x1="520.5" y1="496" x2="520.5" y2="503.5" stroke="#444" stroke-width="1"/>
<line x1="536.7" y1="496" x2="536.7" y2="503.5" stroke="#444" stroke-width="1"/>
<text x="540.5" y="502.5" font-family="Liberation Serif, serif" font-size="7" font-weight="bold" fill="#222" textLength="14" lengthAdjust="spacingAndGlyphs">Ruten</text>
</g>
<defs><g id="piers">
<!-- crossing piers -->
<rect x="204.6" y="211.3" width="20" height="19.5"/><rect x="224" y="219.5" width="4" height="9"/><circle cx="228" cy="224" r="4.5"/><rect x="213.5" y="230" width="9" height="4"/><circle cx="218" cy="234" r="4.5"/>
<rect x="311" y="212" width="17" height="18"/><rect x="327" y="218.3" width="8.5" height="12.5"/><rect x="308" y="219.5" width="4" height="9"/><circle cx="308" cy="224" r="4.5"/><rect x="314.5" y="229" width="9" height="4"/><circle cx="319" cy="232.5" r="4.5"/>
<rect x="205" y="319.8" width="19.2" height="18.8"/><rect x="212.5" y="316.5" width="9" height="4"/><circle cx="217" cy="316.5" r="4.5"/><rect x="223.5" y="322.5" width="4.5" height="9"/><circle cx="228" cy="327" r="4.5"/>
<rect x="311.3" y="319" width="20.7" height="18.4"/><rect x="331" y="319" width="6.8" height="11.8"/><rect x="315.5" y="318" width="9" height="3"/><circle cx="320" cy="318.5" r="4.5"/><rect x="309" y="321" width="3" height="9"/><circle cx="309" cy="325.5" r="4.5"/>
<path d="M135,224 L157,224 L157,232 A4,4 0 0 1 153,236 A4,4 0 0 1 146,238 A4,4 0 0 1 139,236 A4,4 0 0 1 135,232 Z"/>
<path d="M136,330 L157,330 L157,318 A4,4 0 0 0 153,314 A4,4 0 0 0 146,312 A4,4 0 0 0 139,314 A4,4 0 0 0 136,318 Z"/>
</g></defs>
<use href="#piers" fill="#5a5a5a" stroke="#5a5a5a" stroke-width="4.2"/>
<use href="#piers" fill="#eeeeee" stroke="#eeeeee" stroke-width="2.8"/>
<g id="walls" fill="#111">
<!-- north transept north wall -->
<rect x="207" y="148.8" width="83" height="14.8"/>
<!-- NE transept corner and east wall -->
<rect x="311" y="148.3" width="16.5" height="31"/>
<rect x="313.5" y="178" width="11.5" height="36" fill="#1e1e1e"/>
<!-- top right structure -->
<rect x="531" y="6" width="13" height="18"/>
<rect x="522" y="12" width="25" height="8"/>
<rect x="593.8" y="5" width="11.7" height="86"/>
<rect x="664.1" y="7" width="16.1" height="191"/>
<rect x="594" y="75" width="86" height="16"/>
<rect x="529" y="74" width="15" height="17"/>
<!-- north apsidiole -->
<path d="M163,216 L163,197 A31,30.5 0 0 1 194,166.5 L207,163.6 L212,163.6 L212,168 Q206,171 204,182.5 A18,18 0 0 0 176,197 L176,216 Z"/>
<!-- main apse -->
<path d="M163,216 L139.5,216 A59,59 0 0 0 139.5,334 L150,335 L157,330 L157,313 L139.5,313 L139.5,320.5 A45.5,45.5 0 0 1 139.5,229.5 L157,229.5 L157,219 L163,219 Z"/>
<circle cx="113.5" cy="239.5" r="3.2"/><circle cx="95.2" cy="260" r="3"/><circle cx="95.2" cy="289.5" r="3"/><circle cx="113.5" cy="311.5" r="3.2"/>
<!-- diagonal wall + south transept south wall -->
<polygon fill="#1a1a1a" points="150,335 157,324 210,376.5 224,381 225,385 317.5,385 317.5,375 332.5,375 332.5,400.7 207.3,400.7 207.3,390 193,380.5"/>
<rect x="318" y="337" width="11" height="39" fill="#1c1c1c"/>
<!-- west end -->
<polygon points="614,216 637,216 637,170 680,170 680,197.5 777.4,197.5 777.4,243.5 773.7,243.5 773.7,249 770,249 770,254.7 751,254.7 751,225 663,225 663,236 637,236 637,232 614,232"/>
<polygon points="614,312 637,312 637,308.5 663,308.5 663,321.5 751,321.5 751,288.1 770,288.1 770,292.5 773.7,292.5 773.7,298 777.4,298 777.4,342.5 632,342.5 632,360 640,360 640,393 612,393 609.5,386.5 612,380 625,380 625,342.5 614,342.5"/>
<rect x="373" y="217.9" width="13" height="13"/>
<rect x="373" y="317.6" width="13" height="13.5"/>
<rect x="421" y="217.5" width="13" height="13"/>
<rect x="421" y="317.2" width="13" height="13.5"/>
<rect x="470" y="217.1" width="13" height="13"/>
<rect x="470" y="316.8" width="13" height="13.5"/>
<rect x="517" y="216.8" width="13" height="13"/>
<rect x="517" y="316.5" width="13" height="13.5"/>
<rect x="566" y="216.4" width="13" height="13"/>
<rect x="566" y="316.1" width="13" height="13.5"/>
<g fill="#262626">
<polygon points="363.2,380.2 390.3,380.2 392.5,386.6 390.3,393.2 363.2,393.2 361,386.6"/>
<polygon points="416.2,379.8 438.8,379.8 441,386.2 438.8,392.8 416.2,392.8 414,386.2"/>
<polygon points="464.7,379.4 487.8,379.4 490,385.8 487.8,392.4 464.7,392.4 462.5,385.8"/>
<polygon points="513.2,379.1 533.8,379.1 536,385.5 533.8,392.1 513.2,392.1 511,385.5"/>
<polygon points="562.2,378.6 586.8,378.6 589,385 586.8,391.6 562.2,391.6 560,385"/>
<rect x="421" y="392.2" width="15" height="13.5"/>
<rect x="469" y="391.8" width="15" height="13.5"/>
<rect x="516" y="391.5" width="15" height="13.5"/>
<rect x="564" y="391.1" width="16" height="13.5"/>
</g>
<polygon points="326,161.8 397,161.3 393,173.8 326,174.3"/>
<polygon points="409,161.2 494,160.5 490,173 413,173.7"/>
<polygon points="506,160.4 664,159.1 664,171.6 510,172.9"/>
<use href="#piers" fill="#111"/>
</g>
<path d="M596.5,4.5 L596.5,7 Q599.5,10.5 603,7 L603,4.5 Z" fill="#eeeeee"/>
<path d="M121,235 L121,228.3 L135,227 L135,231 Z" fill="#eeeeee" stroke="#666" stroke-width="0.6"/>
<path d="M625,345 L630,345 Q632,352 630,359 L625,359 Z" fill="#e8e8e8"/>
</svg>
</body></html>
